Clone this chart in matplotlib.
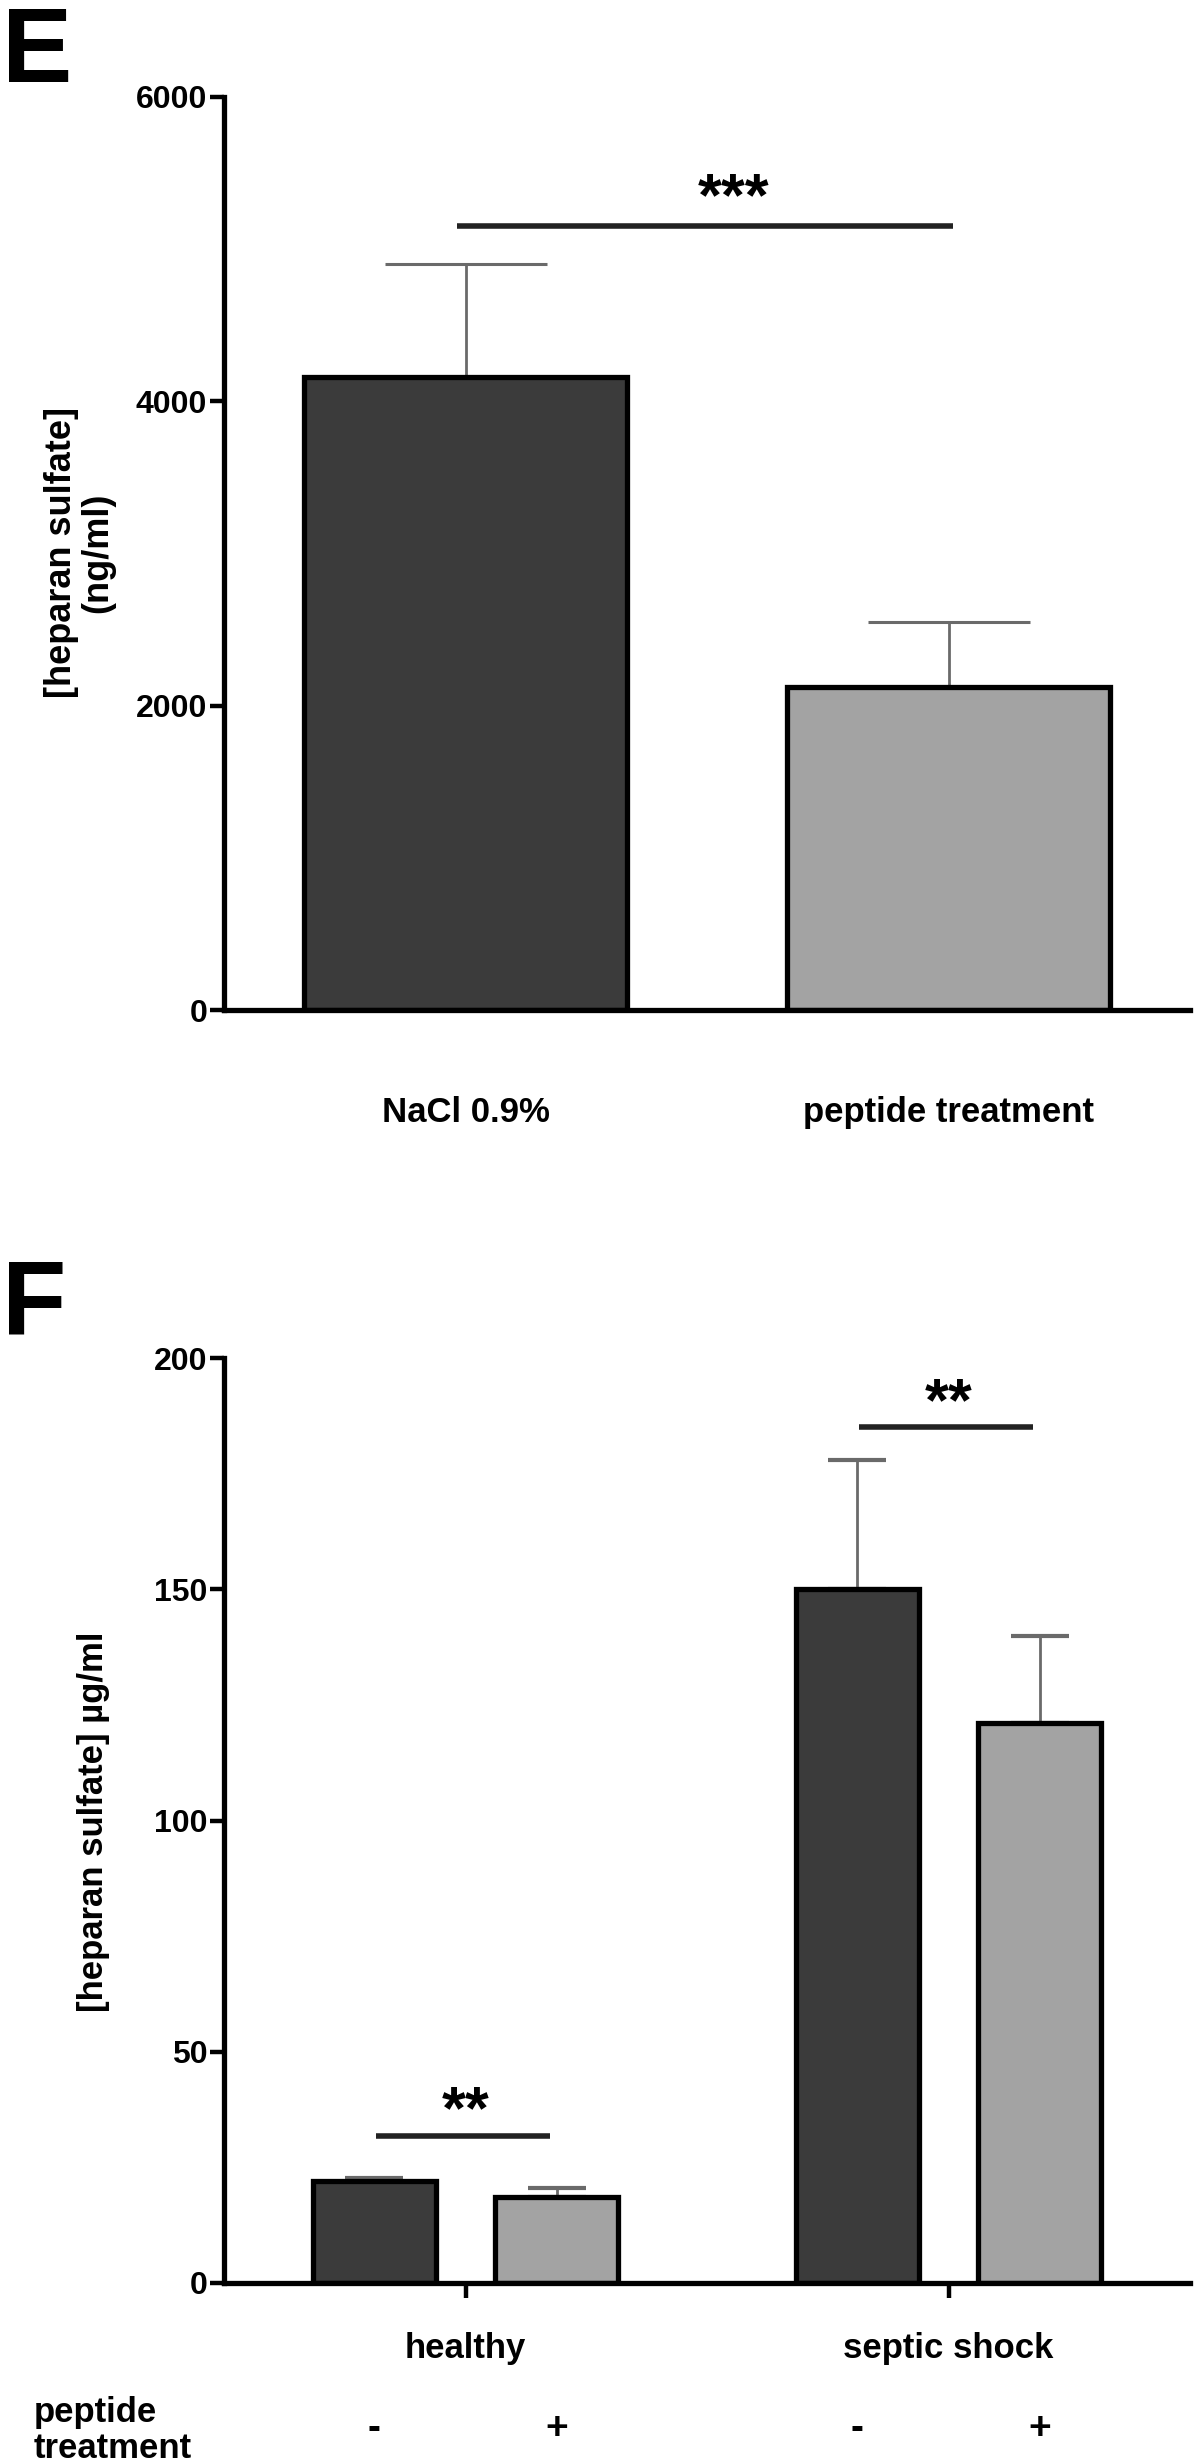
import numpy as np
import matplotlib as mpl
import matplotlib.pyplot as plt

mpl.rcParams["font.family"] = ["Liberation Sans", "DejaVu Sans"]
mpl.rcParams["font.weight"] = "bold"

# Panel E data
e_groups = ["NaCl 0.9%", "peptide treatment"]
e_means = [4160, 2120]
e_sem = [740, 430]
e_ticks = [0, 2000, 4000, 6000]

# Panel F data
f_groups = ["healthy", "septic shock"]
f_minus = [22.0, 150.0]
f_minus_err = [0.8, 28.0]
f_plus = [18.5, 121.0]
f_plus_err = [2.0, 19.0]
f_ticks = [0, 50, 100, 150, 200]
f_signs = ["-", "+"]

dark = "#3b3b3b"
light = "#a3a3a3"
errc = "#6a6a6a"

W, H = 1200, 2464
fig = plt.figure(figsize=(W / 100, H / 100), dpi=100)


def fx(px):
    return px / W


def fy(py):
    return 1 - py / H


def style_axis(ax):
    for s in ["top", "right"]:
        ax.spines[s].set_visible(False)
    for s in ["left", "bottom"]:
        ax.spines[s].set_linewidth(3.8)
    ax.tick_params(axis="y", length=10, width=3.2, pad=2, labelsize=23)
    ax.set_xlim(-0.5, 1.5)


# ---------------- Panel E ----------------
axE = fig.add_axes([fx(224), fy(1010), fx(1190) - fx(224), fy(97) - fy(1010)])
style_axis(axE)
xe = np.arange(len(e_groups))
axE.errorbar(xe, e_means, yerr=[np.zeros(len(xe)), e_sem], fmt="none",
             ecolor=errc, elinewidth=2, capsize=58, capthick=2.2, zorder=1)
axE.bar(xe, e_means, width=0.67, color=[dark, light], edgecolor="black",
        linewidth=3.8, zorder=2)
axE.set_ylim(0, 6000)
axE.set_yticks(e_ticks)
axE.set_xticks(xe)
axE.set_xticklabels(e_groups, fontsize=25)
axE.tick_params(axis="x", length=0, pad=62)
axE.plot([-0.017, 1.01], [5152, 5152], color="#222222", lw=4, solid_capstyle="butt")
axE.text(0.555, 5225, "***", ha="center", va="baseline", fontsize=44)

fig.text(fx(80), fy(553), "[heparan sulfate]\n(ng/ml)", rotation=90,
         ha="center", va="center", fontsize=26, linespacing=1.05)
fig.text(fx(2), fy(82), "E", fontsize=76, ha="left", va="baseline")

# ---------------- Panel F ----------------
axF = fig.add_axes([fx(224), fy(2283), fx(1190) - fx(224), fy(1358) - fy(2283)])
style_axis(axF)
xf = np.arange(len(f_groups))
off = 0.189
bw = 0.255
axF.errorbar(xf - off, f_minus, yerr=[np.zeros(2), f_minus_err], fmt="none",
             ecolor=errc, elinewidth=2, capsize=21, capthick=3, zorder=1)
axF.errorbar(xf + off, f_plus, yerr=[np.zeros(2), f_plus_err], fmt="none",
             ecolor=errc, elinewidth=2, capsize=21, capthick=3, zorder=1)
axF.bar(xf - off, f_minus, width=bw, color=dark, edgecolor="black", linewidth=3.8, zorder=2)
axF.bar(xf + off, f_plus, width=bw, color=light, edgecolor="black", linewidth=3.8, zorder=2)
axF.set_ylim(0, 200)
axF.set_yticks(f_ticks)
axF.set_xticks(xf)
axF.set_xticklabels(f_groups, fontsize=25)
axF.tick_params(axis="x", direction="out", length=11, width=3.2, pad=24)

sig_y = [31.8, 185]
star_y = [33.5, 186.5]
for i in range(len(xf)):
    axF.plot([xf[i] - 0.185, xf[i] + 0.175], [sig_y[i], sig_y[i]], color="#222222",
             lw=4, solid_capstyle="butt")
    axF.text(xf[i], star_y[i], "**", ha="center", va="baseline", fontsize=44)

fig.text(fx(94), fy(1822), "[heparan sulfate] \u00b5g/ml", rotation=90,
         ha="center", va="center", fontsize=25)
fig.text(fx(2), fy(1335), "F", fontsize=76, ha="left", va="baseline")

# peptide treatment row
fig.text(fx(34), fy(2422), "peptide", fontsize=25, ha="left", va="baseline")
fig.text(fx(34), fy(2458), "treatment", fontsize=25, ha="left", va="baseline")
for i in range(len(xf)):
    for j, sign in enumerate(f_signs):
        xpos = xf[i] + (2 * j - 1) * off
        xd = axF.transData.transform((xpos, 0))[0] / fig.bbox.width
        fig.text(xd, fy(2429), sign, fontsize=28, ha="center", va="center")

fig.savefig("out.png", dpi=100, facecolor="white")
